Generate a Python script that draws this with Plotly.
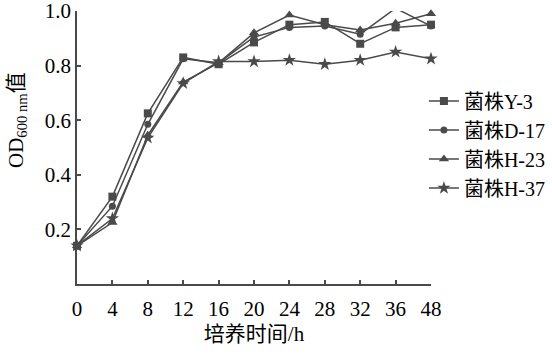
import plotly.graph_objects as go

time_labels = ["0", "4", "8", "12", "16", "20", "24", "28", "32", "36", "48"]
series_names = ["菌株Y-3", "菌株D-17", "菌株H-23", "菌株H-37"]
y3 = [0.14, 0.32, 0.625, 0.83, 0.805, 0.885, 0.95, 0.96, 0.88, 0.94, 0.95]
d17 = [0.14, 0.285, 0.585, 0.825, 0.81, 0.905, 0.94, 0.945, 0.915, 1.01, 0.945]
h23 = [0.14, 0.225, 0.545, 0.74, 0.81, 0.92, 0.985, 0.95, 0.93, 0.955, 0.99]
h37 = [0.14, 0.24, 0.535, 0.735, 0.815, 0.815, 0.82, 0.805, 0.82, 0.85, 0.825]
symbols = ["square", "circle", "triangle-up", "star"]
sizes = [8, 7, 9, 10]

FONT = "Liberation Serif, Times New Roman, Noto Sans CJK SC, serif"
C = "#4a4a4a"

fig = go.Figure()
x_idx = list(range(len(time_labels)))
for name, vals, sym, sz in zip(series_names, [y3, d17, h23, h37], symbols, sizes):
    fig.add_trace(go.Scatter(
        x=x_idx, y=vals, name=name, mode="lines+markers",
        line=dict(color=C, width=1.5),
        marker=dict(symbol=sym, size=sz, color=C),
        cliponaxis=False,
    ))

fig.update_layout(
    width=552, height=355,
    margin=dict(l=77, r=121, t=11, b=71, autoexpand=False),
    paper_bgcolor="white", plot_bgcolor="white",
    font=dict(family=FONT, size=21, color="black"),
    showlegend=True,
    legend=dict(x=0.98, xanchor="left", y=0.511, yanchor="middle",
                font=dict(family=FONT, size=20, color="black"),
                tracegroupgap=0, itemwidth=30,
                bgcolor="rgba(0,0,0,0)"),
    xaxis=dict(range=[0, 10], tickmode="array", tickvals=x_idx, ticktext=time_labels,
               ticks="inside", ticklen=4, tickcolor=C, tickwidth=1.5,
               ticklabeloverflow="allow", ticklabelstandoff=5,
               showline=True, linecolor=C, linewidth=1.5, showgrid=False, zeroline=False,
               title=dict(text="培养时间/h", standoff=6,
                          font=dict(family=FONT, size=21))),
    yaxis=dict(range=[0, 1.0], tickmode="array", tickvals=[0.2, 0.4, 0.6, 0.8, 1.0],
               ticktext=["0.2", "0.4", "0.6", "0.8", "1.0"],
               ticks="inside", ticklen=4, tickcolor=C, tickwidth=1.5,
               ticklabeloverflow="allow",
               showline=True, linecolor=C, linewidth=1.5, showgrid=False, zeroline=False),
    annotations=[dict(text="OD<sub>600 nm</sub>值", textangle=-90,
                      xref="paper", yref="paper", x=-0.17, y=0.60,
                      xanchor="center", yanchor="middle", showarrow=False,
                      font=dict(family=FONT, size=21, color="black"))],
)

fig.write_html("out.html")
